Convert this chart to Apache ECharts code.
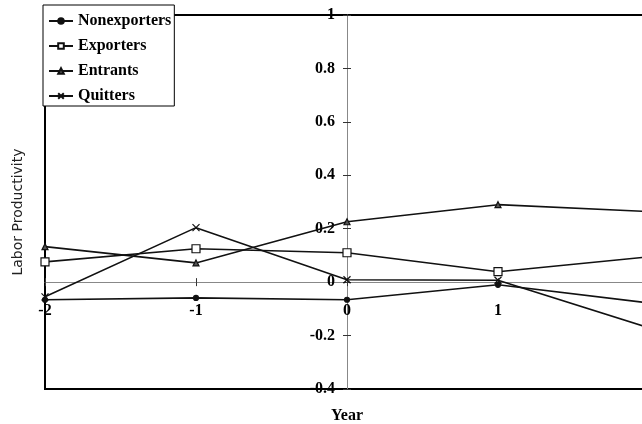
<!DOCTYPE html>
<html>
<head>
<meta charset="utf-8">
<script src="https://cdn.jsdelivr.net/npm/echarts@6/dist/echarts.min.js"></script>
<style>
  html, body { margin: 0; padding: 0; background: #fff; }
  #chart { width: 642px; height: 424px; }
</style>
</head>
<body>
<div id="chart"></div>
<script>
// Years relative to the event year
const years = [-2, -1, 0, 1, 2];

// Labor productivity by firm group
const nonexporters = [-0.066, -0.059, -0.066, -0.010, -0.078];
const exporters    = [0.076, 0.125, 0.110, 0.039, 0.095];
const entrants     = [0.133, 0.072, 0.226, 0.290, 0.264];
const quitters     = [-0.055, 0.204, 0.009, 0.007, -0.171];

const seriesNames = ['Nonexporters', 'Exporters', 'Entrants', 'Quitters'];

const serif = "'Liberation Serif', 'Times New Roman', serif";
const ink = '#111';

// Plot box
const G = { left: 45, top: 15, width: 604, height: 374 };
const X_MIN = -2, X_MAX = 2, Y_MIN = -0.4, Y_MAX = 1;
// Distance from the box edges to the zero lines, so the axes cross at (0, 0)
const zeroFromBottom = G.height * (0 - Y_MIN) / (Y_MAX - Y_MIN);
const zeroFromLeft = G.width * (0 - X_MIN) / (X_MAX - X_MIN);

function pairs(values) {
  return years.map((yr, i) => [yr, values[i]]);
}

function lineSeries(name, values, symbol, size, fill) {
  return {
    name: name,
    type: 'line',
    xAxisIndex: 0,
    yAxisIndex: 0,
    data: pairs(values),
    symbol: symbol,
    symbolSize: size,
    showAllSymbol: true,
    lineStyle: { color: ink, width: 1.6 },
    itemStyle: { color: fill, borderColor: ink, borderWidth: 1.2 },
    emphasis: { disabled: true },
    animation: false,
    z: 3
  };
}

const crossPath = 'path://M0,0L10,10M10,0L0,10';

const xBase = { type: 'value', min: X_MIN, max: X_MAX, interval: 1, splitLine: { show: false }, position: 'bottom' };
const yBase = { type: 'value', min: Y_MIN, max: Y_MAX, interval: 0.2, splitLine: { show: false }, position: 'left' };
const tickStyle = { color: '#333', width: 1 };

const chart = echarts.init(document.getElementById('chart'), null, { renderer: 'canvas' });

chart.setOption({
  backgroundColor: '#fff',
  animation: false,
  grid: {
    left: G.left, top: G.top, width: G.width, height: G.height,
    outerBoundsMode: 'none',
    containLabel: false,
    show: true, borderColor: '#000', borderWidth: 2,
    backgroundColor: 'transparent'
  },
  legend: {
    data: seriesNames,
    orient: 'vertical',
    left: 43, top: 5,
    backgroundColor: '#fff',
    borderColor: '#000',
    borderWidth: 1,
    padding: [8, 3, 2, 5],
    itemWidth: 24,
    itemHeight: 7,
    itemGap: 9,
    selectedMode: false,
    textStyle: { fontFamily: serif, fontSize: 16, fontWeight: 'bold', color: '#000' },
    z: 10
  },
  xAxis: [
    Object.assign({}, xBase, {
      offset: -zeroFromBottom,
      axisLine: { onZero: false, lineStyle: { color: '#888', width: 1 } },
      axisTick: { inside: false, length: 4, lineStyle: tickStyle },
      axisLabel: { margin: 21, fontFamily: serif, fontSize: 16, fontWeight: 'bold', color: '#000' }
    }),
    Object.assign({}, xBase, {
      offset: -zeroFromBottom,
      axisLine: { show: false, onZero: false },
      axisTick: { inside: true, length: 4, lineStyle: tickStyle },
      axisLabel: { show: false }
    }),
    Object.assign({}, xBase, {
      axisLine: { show: false, onZero: false },
      axisTick: { show: false },
      axisLabel: { show: false },
      name: 'Year',
      nameLocation: 'middle',
      nameGap: 19,
      nameTextStyle: { fontFamily: serif, fontSize: 16, fontWeight: 'bold', color: '#000' }
    })
  ],
  yAxis: [
    Object.assign({}, yBase, {
      offset: -zeroFromLeft,
      axisLine: { onZero: false, lineStyle: { color: '#888', width: 1 } },
      axisTick: { inside: false, length: 4, lineStyle: tickStyle },
      axisLabel: { margin: 12, fontFamily: serif, fontSize: 16, fontWeight: 'bold', color: '#000' }
    }),
    Object.assign({}, yBase, {
      offset: -zeroFromLeft,
      axisLine: { show: false, onZero: false },
      axisTick: { inside: true, length: 4, lineStyle: tickStyle },
      axisLabel: { show: false }
    })
  ],
  graphic: [{
    type: 'text',
    x: 18,
    y: 212,
    rotation: Math.PI / 2,
    style: {
      text: 'Labor Productivity',
      align: 'center',
      verticalAlign: 'middle',
      fontFamily: "'DejaVu Sans', Arial, sans-serif",
      fontSize: 14,
      fill: '#222'
    }
  }],
  series: [
    lineSeries(seriesNames[0], nonexporters, 'circle', 5, ink),
    lineSeries(seriesNames[1], exporters, 'rect', 8, '#fff'),
    lineSeries(seriesNames[2], entrants, 'triangle', 6, '#555'),
    lineSeries(seriesNames[3], quitters, crossPath, 7, ink)
  ]
});
</script>
</body>
</html>
